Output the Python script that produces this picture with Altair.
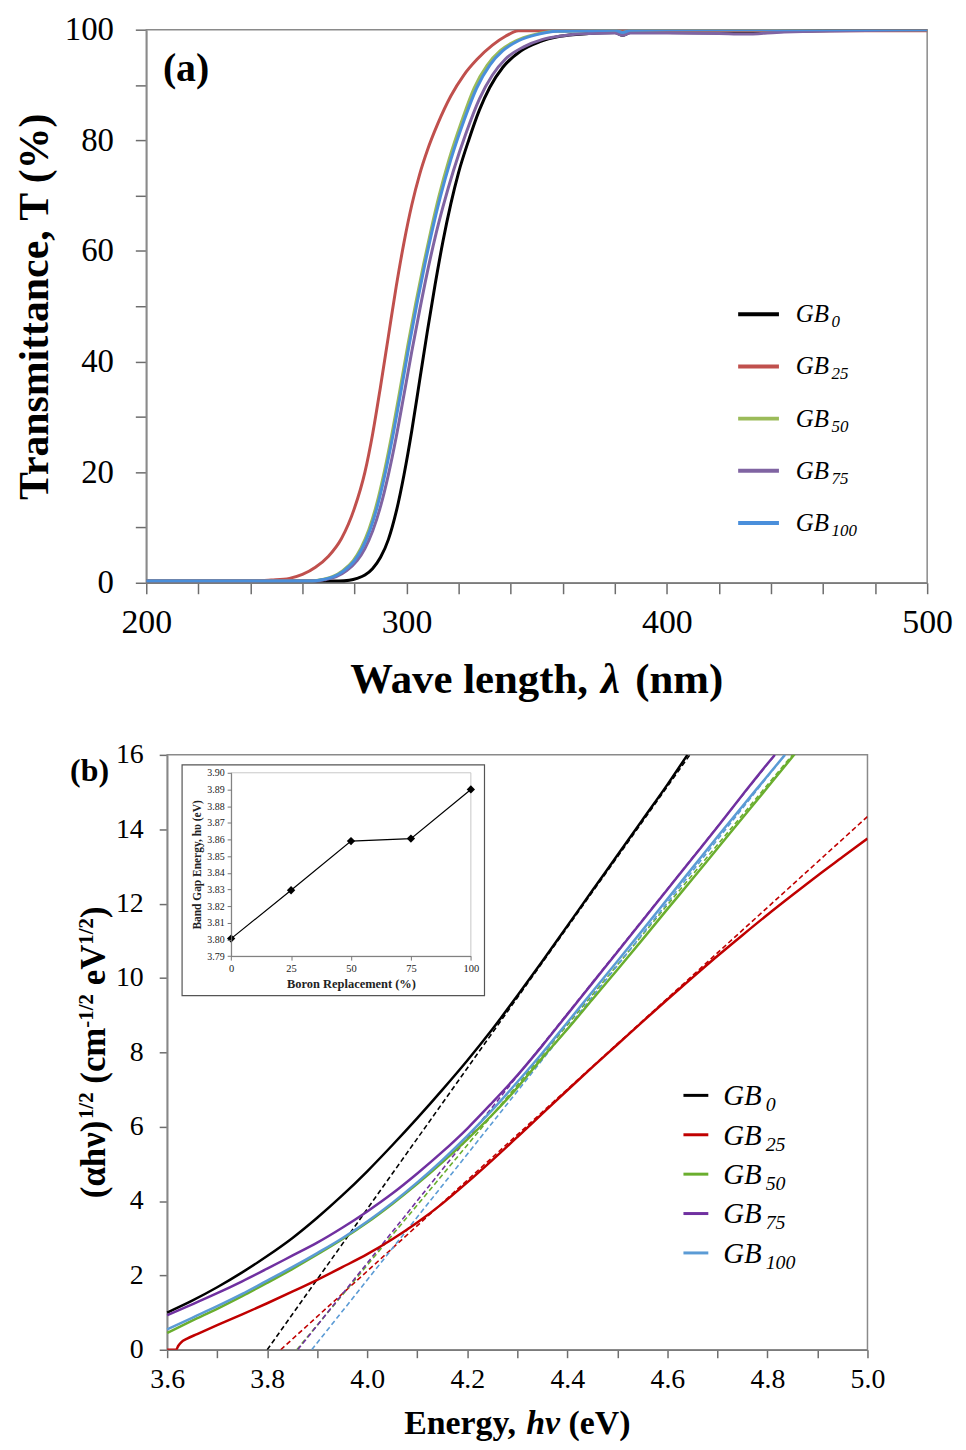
import altair as alt
import pandas as pd

FONT = "Liberation Serif"
AXIS_COLOR = "#6d6d6d"
FRAME_COLOR = "#8a8a8a"

SERIES = ["GB0", "GB25", "GB50", "GB75", "GB100"]
SUBS = ["0", "25", "50", "75", "100"]
TOP_COLORS = ["#000000", "#C0504D", "#9BBB59", "#8064A2", "#4A8FDB"]
BOT_COLORS = ["#000000", "#C00000", "#6AAE2E", "#7030A0", "#5B9BD5"]

# ---------------- panel (a): transmittance ----------------
WL_GB0 = [200, 274, 278, 281, 284, 287, 290, 293, 296, 299, 302, 305, 308, 311, 314, 317, 320, 324, 328, 332, 337, 344, 351, 359, 370, 380, 383, 386, 400, 430, 445, 470, 500]
T_GB0 = [0.3, 0.3, 0.45, 0.8, 1.4, 2.6, 4.6, 7.8, 12.8, 19.5, 27.5, 36.5, 45.5, 54, 61.8, 68.5, 74.2, 80.2, 85.5, 89.6, 93.2, 96.2, 97.8, 98.8, 99.3, 99.5, 99.0, 99.5, 99.5, 99.4, 99.7, 99.9, 100]
WL_GB25 = [200, 240, 248, 255, 260, 265, 270, 275, 280, 284, 287, 290, 293, 296, 299, 302, 305, 308, 312, 317, 322, 327, 333, 338, 343, 500]
T_GB25 = [0.3, 0.3, 0.5, 0.8, 1.5, 2.8, 4.8, 8.0, 13.5, 20, 27, 35.5, 44.5, 53.5, 61.5, 68.3, 73.8, 78.2, 83, 88, 91.8, 94.6, 97.2, 98.8, 99.8, 99.8]
WL_GB50 = [200, 263, 267.5, 271.5, 275.5, 279.5, 282.5, 285.5, 288.5, 291.5, 294.5, 297.5, 300.5, 303.5, 306.5, 309.5, 312.4, 316.3, 321.2, 326, 331, 336, 342, 349, 357, 370, 380, 383, 386, 400, 500]
T_GB50 = [0.3, 0.3, 0.6, 1.1, 2.2, 4.0, 6.3, 9.6, 14.2, 20.2, 27.2, 35, 43, 50.5, 57.5, 64, 69.8, 76.5, 83.5, 89.5, 93.6, 96.2, 98, 99.1, 99.7, 99.8, 99.9, 99.5, 99.9, 100, 100]
WL_GB75 = [200, 265, 269, 273, 277, 281, 284, 287, 290, 293, 296, 299, 302, 305, 308, 311, 314, 318, 323, 328, 333, 338, 345, 352, 360, 370, 380, 383, 386, 400, 420, 430, 445, 470, 500]
T_GB75 = [0.3, 0.3, 0.6, 1.1, 2.2, 4.0, 6.2, 9.4, 13.8, 19.5, 26.3, 34, 41.8, 49.2, 56.2, 62.5, 68, 74.5, 81.5, 87.5, 91.8, 94.7, 96.9, 98.2, 98.9, 99.3, 99.4, 99.0, 99.4, 99.4, 99.3, 99.2, 99.6, 99.8, 100]
WL_GB100 = [200, 264, 268, 272, 276, 280, 283, 286, 289, 292, 295, 298, 301, 304, 307, 310, 313, 317, 322, 327, 332, 337, 343, 350, 358, 370, 380, 383, 386, 400, 500]
T_GB100 = [0.3, 0.3, 0.6, 1.1, 2.2, 4.0, 6.3, 9.6, 14.2, 20.2, 27.2, 35, 43, 50.5, 57.5, 64, 69.8, 76.5, 83.5, 89.5, 93.6, 96.2, 98, 99.1, 99.7, 99.8, 99.9, 99.5, 99.9, 100, 100]

# ---------------- panel (b): Tauc plot ----------------
E_GB0 = [3.60, 3.65, 3.70, 3.75, 3.80, 3.85, 3.90, 3.95, 4.00, 4.05, 4.10, 4.15, 4.20, 4.25, 4.30, 4.35, 4.40, 4.45, 4.50, 4.55, 4.60, 4.64]
V_GB0 = [1.00, 1.32, 1.68, 2.08, 2.52, 3.00, 3.55, 4.15, 4.80, 5.50, 6.23, 6.99, 7.78, 8.62, 9.52, 10.45, 11.40, 12.35, 13.30, 14.25, 15.20, 16.0]
E_GB25 = [3.600, 3.618, 3.622, 3.628, 3.640, 3.660, 3.700, 3.750, 3.800, 3.850, 3.900, 3.950, 4.000, 4.050, 4.100, 4.150, 4.200, 4.250, 4.300, 4.350, 4.400, 4.450, 4.500, 4.550, 4.600, 4.650, 4.700, 4.750, 4.800, 4.850, 4.900, 4.950, 5.000]
V_GB25 = [0.00, 0.00, 0.10, 0.20, 0.30, 0.42, 0.66, 0.95, 1.25, 1.56, 1.88, 2.22, 2.57, 2.97, 3.42, 3.93, 4.50, 5.10, 5.72, 6.35, 6.98, 7.60, 8.21, 8.82, 9.42, 10.01, 10.59, 11.15, 11.70, 12.23, 12.75, 13.25, 13.75]
E_GB50 = [3.60, 3.65, 3.70, 3.75, 3.80, 3.85, 3.90, 3.95, 4.00, 4.05, 4.10, 4.15, 4.20, 4.25, 4.30, 4.35, 4.40, 4.45, 4.50, 4.55, 4.60, 4.65, 4.70, 4.75, 4.80, 4.855]
V_GB50 = [0.45, 0.78, 1.10, 1.44, 1.80, 2.17, 2.56, 2.97, 3.42, 3.92, 4.46, 5.04, 5.66, 6.32, 7.05, 7.85, 8.62, 9.42, 10.22, 11.03, 11.85, 12.66, 13.48, 14.30, 15.12, 16.03]
E_GB75 = [3.60, 3.65, 3.70, 3.75, 3.80, 3.85, 3.90, 3.95, 4.00, 4.05, 4.10, 4.15, 4.20, 4.25, 4.30, 4.35, 4.40, 4.45, 4.50, 4.55, 4.60, 4.65, 4.70, 4.75, 4.80, 4.815]
V_GB75 = [0.93, 1.22, 1.52, 1.84, 2.18, 2.53, 2.88, 3.28, 3.72, 4.20, 4.74, 5.32, 5.95, 6.65, 7.38, 8.18, 9.02, 9.86, 10.70, 11.54, 12.38, 13.22, 14.06, 14.92, 15.76, 16.0]
E_GB100 = [3.60, 3.65, 3.70, 3.75, 3.80, 3.85, 3.90, 3.95, 4.00, 4.05, 4.10, 4.15, 4.20, 4.25, 4.30, 4.35, 4.40, 4.45, 4.50, 4.55, 4.60, 4.65, 4.70, 4.75, 4.80, 4.835]
V_GB100 = [0.55, 0.86, 1.17, 1.50, 1.86, 2.22, 2.60, 3.00, 3.45, 3.95, 4.50, 5.10, 5.75, 6.45, 7.20, 7.98, 8.80, 9.63, 10.45, 11.28, 12.12, 12.96, 13.80, 14.62, 15.43, 16.0]

# linear fits (dashed): intercept and end point
FIT_E = [[3.800, 4.645], [3.827, 5.000], [3.859, 4.850], [3.861, 4.815], [3.889, 4.835]]
FIT_V = [[0, 16], [0, 14.34], [0, 16], [0, 16], [0, 16]]

# inset: band gap vs boron replacement
BORON = [0, 25, 50, 75, 100]
BANDGAP = [3.8005, 3.8295, 3.859, 3.8605, 3.890]

TOP_WL = [WL_GB0, WL_GB25, WL_GB50, WL_GB75, WL_GB100]
TOP_T = [T_GB0, T_GB25, T_GB50, T_GB75, T_GB100]
BOT_E = [E_GB0, E_GB25, E_GB50, E_GB75, E_GB100]
BOT_V = [V_GB0, V_GB25, V_GB50, V_GB75, V_GB100]

# approximate Times advance widths (em) for composing styled titles
TB = {'W': 1.0, 'a': .5, 'v': .5, 'e': .444, 'l': .278, 'n': .556, 'g': .5, 't': .333,
      'h': .556, ',': .25, ' ': .25, '(': .333, ')': .333, 'm': .833, 'E': .667, 'r': .444,
      'y': .5, 'V': .722, 'c': .444, 'α': .55, 'ν': .5, '1': .5, '2': .5, '/': .278,
      '-': .333, 'λ': .55, 'G': .722, 'B': .611}
TBI = {'h': .556, 'v': .444, 'λ': .55}


def tw(s, size, italic=False):
    tbl = TBI if italic else TB
    return sum(tbl.get(c, TB.get(c, 0.5)) for c in s) * size


def one_row():
    return pd.DataFrame({"k": [0]})


def txt(text, x, y, size, weight="normal", style="normal", angle=0,
        align="left", baseline="alphabetic", color="black"):
    kw = dict(text=text, font=FONT, fontSize=size, fontWeight=weight,
              fontStyle=style, align=align, baseline=baseline, color=color)
    if angle:
        kw["angle"] = angle
    return alt.Chart(one_row()).mark_text(**kw).encode(x=alt.value(x), y=alt.value(y))


def htitle(parts, center_x, base_y, size):
    sp = 0.25 * size
    widths = [tw(t, size, it) for t, it in parts]
    total = sum(widths) + sp * (len(parts) - 1)
    x = center_x - total / 2
    out = []
    for (t, it), w in zip(parts, widths):
        out.append(txt(t, x, base_y, size, weight="bold",
                       style="italic" if it else "normal"))
        x += w + sp
    return out


def axis_common(**kw):
    base = dict(labelFont=FONT, labelColor="black", domainColor=AXIS_COLOR,
                tickColor=AXIS_COLOR, domainWidth=1.5, tickWidth=1.5, grid=False,
                labelOverlap=False, labelFlush=False, titleFont=FONT,
                titleColor="black", titleFontWeight="bold")
    base.update(kw)
    return alt.Axis(**base)


# ====================== TOP PANEL ======================
W_TOP, H_TOP = 785, 556
x_top = alt.X("wl:Q", scale=alt.Scale(domain=[200, 500], nice=False, zero=False),
              axis=axis_common(values=list(range(200, 501, 20)),
                               labelExpr="datum.value % 100 === 0 ? datum.label : ''",
                               tickSize=11, labelPadding=12, labelFontSize=34, title=None))
y_top = alt.Y("t:Q", scale=alt.Scale(domain=[0, 100], nice=False),
              axis=axis_common(values=list(range(0, 101, 10)),
                               labelExpr="datum.value % 20 === 0 ? datum.label : ''",
                               tickSize=11, labelPadding=22, labelFontSize=33,
                               title="Transmittance, T (%)", titleFontSize=42,
                               titlePadding=8))

top_frame = alt.Chart(one_row()).mark_rect(fillOpacity=0, stroke=FRAME_COLOR, strokeWidth=1.5).encode(
    x=alt.X(datum=200, scale=alt.Scale(domain=[200, 500], nice=False, zero=False)),
    x2=alt.X2(datum=500),
    y=alt.Y(datum=0, scale=alt.Scale(domain=[0, 100], nice=False)),
    y2=alt.Y2(datum=100))

top_layers = [top_frame]
for i, name in enumerate(SERIES):
    df = pd.DataFrame({"wl": TOP_WL[i], "t": TOP_T[i]})
    top_layers.append(
        alt.Chart(df).mark_line(color=TOP_COLORS[i], strokeWidth=3,
                                interpolate="monotone", clip=True)
        .encode(x=x_top, y=y_top))

top_deco = [txt("(a)", 40, 40, 40, weight="bold", align="center", baseline="middle")]
for i, name in enumerate(SERIES):
    yl = 286 + i * 52.5
    top_deco.append(alt.Chart(one_row()).mark_rule(color=TOP_COLORS[i], strokeWidth=4).encode(
        x=alt.value(595), x2=alt.value(636), y=alt.value(yl)))
    top_deco.append(txt("GB", 653, yl + 8, 25, style="italic"))
    top_deco.append(txt(SUBS[i], 653 + tw("GB", 25) + 2.5, yl + 13, 17, style="italic"))

top_deco += htitle([("Wave length,", False), ("λ", True), ("(nm)", False)],
                   W_TOP / 2, 667, 43)

top = alt.layer(*top_layers, *top_deco).properties(width=W_TOP, height=H_TOP)

# ====================== BOTTOM PANEL ======================
W_BOT, H_BOT = 725, 598
X0 = 21  # left inset of the energy axis inside the panel
E_TICKS = [round(3.6 + 0.05 * k, 2) for k in range(29)]
x_bot = alt.X("e:Q", scale=alt.Scale(domain=[3.6, 5.0], range=[X0, W_BOT], nice=False, zero=False),
              axis=axis_common(values=E_TICKS, orient="bottom",
                               labelExpr="round(datum.value*100) % 20 === 0 ? format(datum.value, '.1f') : ''",
                               tickSize=8, labelPadding=8, labelFontSize=28, title=None))
y_bot = alt.Y("v:Q", scale=alt.Scale(domain=[0, 16], nice=False),
              axis=axis_common(values=list(range(0, 17)), orient="left", offset=-X0,
                               labelExpr="datum.value % 2 === 0 ? datum.label : ''",
                               tickSize=8, labelPadding=16, labelFontSize=28, title=None))

bot_frame = alt.Chart(one_row()).mark_rect(fillOpacity=0, stroke=FRAME_COLOR, strokeWidth=1.5).encode(
    x=alt.X(datum=3.6, scale=alt.Scale(domain=[3.6, 5.0], range=[X0, W_BOT], nice=False, zero=False)),
    x2=alt.X2(datum=5.0),
    y=alt.Y(datum=0, scale=alt.Scale(domain=[0, 16], nice=False)),
    y2=alt.Y2(datum=16))

bot_layers = [bot_frame]
for i, name in enumerate(SERIES):
    dfl = pd.DataFrame({"e": FIT_E[i], "v": FIT_V[i]})
    bot_layers.append(alt.Chart(dfl).mark_line(color=BOT_COLORS[i], strokeWidth=1.6,
                                               strokeDash=[5, 3], clip=True)
                      .encode(x=x_bot, y=y_bot))
for i, name in enumerate(SERIES):
    df = pd.DataFrame({"e": BOT_E[i], "v": BOT_V[i]})
    bot_layers.append(alt.Chart(df).mark_line(color=BOT_COLORS[i], strokeWidth=2.5,
                                              interpolate="monotone", clip=True)
                      .encode(x=x_bot, y=y_bot))

bot_deco = [txt("(b)", -57, 16, 32, weight="bold", align="center", baseline="middle")]
for i, name in enumerate(SERIES):
    yl = 342.3 + i * 39.6
    bot_deco.append(alt.Chart(one_row()).mark_rule(color=BOT_COLORS[i], strokeWidth=3).encode(
        x=alt.value(540), x2=alt.value(565), y=alt.value(yl)))
    bot_deco.append(txt("GB", 580, yl + 10, 29, style="italic"))
    bot_deco.append(txt(SUBS[i], 580 + tw("GB", 29) + 4, yl + 16, 20, style="italic"))

bot_deco += htitle([("Energy,", False), ("hv", True), ("(eV)", False)],
                   (X0 + W_BOT) / 2, 683, 34)

# rotated y title with superscripts
YT_MAIN, YT_SUP = 35, 21
yparts = [("(αhν)", False, False), ("1/2", True, False), ("(cm", False, True),
          ("-1/2", True, False), ("eV", False, True), ("1/2", True, False), (")", False, False)]
total = 0
for t, sup, gap in yparts:
    total += tw(t, YT_SUP if sup else YT_MAIN) + (0.25 * YT_MAIN if gap else 0)
cur = H_BOT / 2 + total / 2
for t, sup, gap in yparts:
    if gap:
        cur -= 0.25 * YT_MAIN
    size = YT_SUP if sup else YT_MAIN
    bot_deco.append(txt(t, -54 if sup else -41, cur, size, weight="bold", angle=270))
    cur -= tw(t, size)

main_bot = alt.layer(*bot_layers, *bot_deco)

# inset
IX = [85.3, 326.3]
IY = [202.3, 18]
x_in = alt.X("b:Q", scale=alt.Scale(domain=[0, 100], range=IX, nice=False, zero=False),
             axis=alt.Axis(values=BORON, orient="bottom", offset=-(H_BOT - IY[0]), zindex=2,
                           labelFont=FONT, labelFontSize=10.5, labelColor="#222",
                           domainColor="#777", tickColor="#777", tickSize=4, labelPadding=3,
                           grid=False, title="Boron Replacement (%)", titleFont=FONT,
                           titleFontSize=12.5, titleFontWeight="bold", titleColor="#222",
                           titlePadding=4, labelFlush=False))
y_in = alt.Y("g:Q", scale=alt.Scale(domain=[3.79, 3.90], range=IY, nice=False, zero=False),
             axis=alt.Axis(values=[round(3.79 + 0.01 * k, 2) for k in range(12)], format=".2f",
                           orient="left", offset=-IX[0], zindex=2,
                           labelFont=FONT, labelFontSize=10, labelColor="#222",
                           domainColor="#777", tickColor="#777", tickSize=4, labelPadding=3,
                           grid=False, title="Band Gap Energy, hυ (eV)", titleFont=FONT,
                           titleFontSize=11.5, titleFontWeight="bold", titleColor="#222",
                           titlePadding=4, labelFlush=False, labelOverlap=False))

df_in = pd.DataFrame({"b": BORON, "g": BANDGAP})
inset_box = alt.Chart(one_row()).mark_rect(fill="white", stroke="#555", strokeWidth=1.2).encode(
    x=alt.value(36), x2=alt.value(340), y=alt.value(10), y2=alt.value(242))
inset_frame = alt.Chart(one_row()).mark_rect(fillOpacity=0, stroke="#c8c8c8", strokeWidth=1).encode(
    x=alt.X(datum=0, scale=alt.Scale(domain=[0, 100], range=IX, nice=False, zero=False)),
    x2=alt.X2(datum=100),
    y=alt.Y(datum=3.79, scale=alt.Scale(domain=[3.79, 3.90], range=IY, nice=False, zero=False)),
    y2=alt.Y2(datum=3.90))
inset_line = alt.Chart(df_in).mark_line(color="black", strokeWidth=1.2).encode(x=x_in, y=y_in)
inset_pts = alt.Chart(df_in).mark_point(shape="diamond", filled=True, size=70, color="black",
                                        opacity=1).encode(x=x_in, y=y_in)
inset = alt.layer(inset_box, inset_frame, inset_line, inset_pts)

bottom = alt.layer(main_bot, inset).resolve_scale(x="independent", y="independent").properties(
    width=W_BOT, height=H_BOT)

chart = (alt.vconcat(top, bottom, spacing=39)
         .configure_view(stroke=None)
         .configure_axis(labelFont=FONT, titleFont=FONT)
         .configure_text(font=FONT)
         .properties(padding={"left": 5, "top": 2, "right": 5, "bottom": 5}))

chart.save("out.html", embed_options={"renderer": "svg", "actions": False})
